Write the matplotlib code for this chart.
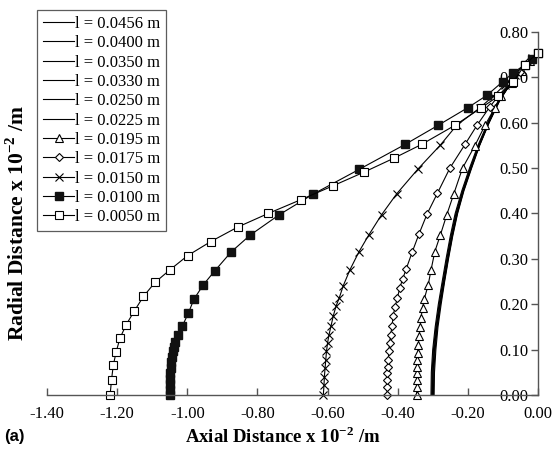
import matplotlib.pyplot as plt
from matplotlib.ticker import MultipleLocator, FormatStrFormatter

plt.rcParams['font.family'] = ['Liberation Serif', 'DejaVu Serif']
plt.rcParams['mathtext.fontset'] = 'custom'
plt.rcParams['mathtext.rm'] = 'Liberation Serif'
plt.rcParams['mathtext.bf'] = 'Liberation Serif:bold'

# plain curves (no markers) share the same radial positions
r_plain = [0.0, 0.05, 0.10, 0.15, 0.20, 0.25, 0.30, 0.35, 0.40, 0.45, 0.50, 0.55, 0.60, 0.65, 0.70, 0.755]
x_0456 = [-0.296, -0.295, -0.291, -0.285, -0.276, -0.266, -0.255, -0.243, -0.229, -0.211, -0.189, -0.166, -0.139, -0.108, -0.066, 0.0]
x_0400 = [-0.298, -0.297, -0.293, -0.287, -0.278, -0.267, -0.256, -0.244, -0.230, -0.212, -0.190, -0.167, -0.140, -0.109, -0.066, 0.0]
x_0350 = [-0.300, -0.299, -0.295, -0.288, -0.279, -0.268, -0.257, -0.245, -0.231, -0.213, -0.191, -0.167, -0.140, -0.109, -0.067, 0.0]
x_0330 = [-0.301, -0.300, -0.296, -0.289, -0.280, -0.269, -0.258, -0.246, -0.232, -0.213, -0.191, -0.168, -0.141, -0.110, -0.067, 0.0]
x_0250 = [-0.303, -0.302, -0.298, -0.291, -0.282, -0.271, -0.260, -0.248, -0.234, -0.215, -0.193, -0.169, -0.142, -0.111, -0.068, 0.0]
x_0225 = [-0.305, -0.304, -0.300, -0.293, -0.284, -0.273, -0.262, -0.250, -0.236, -0.217, -0.195, -0.171, -0.143, -0.112, -0.069, 0.0]

# l = 0.0195 m (triangles)
x_0195 = [-0.346, -0.346, -0.346, -0.345, -0.345, -0.344, -0.343, -0.341, -0.339, -0.336, -0.334, -0.329, -0.324,
          -0.313, -0.305, -0.294, -0.278, -0.260, -0.240, -0.215, -0.180, -0.151, -0.123, -0.104, -0.074, -0.046, -0.023, 0.0]
r_0195 = [0.0, 0.018, 0.033, 0.048, 0.062, 0.077, 0.093, 0.110, 0.129, 0.149, 0.169, 0.191, 0.212,
          0.242, 0.275, 0.316, 0.353, 0.397, 0.443, 0.500, 0.549, 0.594, 0.633, 0.659, 0.687, 0.713, 0.735, 0.754]

# l = 0.0175 m (diamonds)
x_0175 = [-0.430, -0.430, -0.429, -0.429, -0.428, -0.427, -0.425, -0.423, -0.420, -0.416, -0.413, -0.408, -0.401,
          -0.394, -0.386, -0.376, -0.358, -0.339, -0.316, -0.287, -0.251, -0.208, -0.174, -0.138, -0.114, -0.080, -0.051, -0.029, 0.0]
r_0175 = [0.0, 0.018, 0.033, 0.048, 0.062, 0.077, 0.096, 0.114, 0.132, 0.152, 0.173, 0.193, 0.213,
          0.236, 0.255, 0.277, 0.316, 0.355, 0.399, 0.444, 0.500, 0.552, 0.594, 0.634, 0.658, 0.687, 0.711, 0.733, 0.754]

# l = 0.0150 m (crosses)
x_0150 = [-0.612, -0.610, -0.609, -0.607, -0.605, -0.603, -0.600, -0.596, -0.590, -0.584, -0.576, -0.567, -0.555,
          -0.536, -0.510, -0.482, -0.446, -0.403, -0.342, -0.279, -0.232, -0.165, -0.127, -0.094, -0.066, -0.037, -0.017, 0.0]
r_0150 = [0.0, 0.022, 0.040, 0.059, 0.077, 0.096, 0.114, 0.132, 0.152, 0.173, 0.195, 0.213, 0.241,
          0.276, 0.316, 0.353, 0.397, 0.443, 0.498, 0.550, 0.594, 0.633, 0.659, 0.684, 0.706, 0.728, 0.742, 0.754]

# l = 0.0100 m (filled squares)
x_0100 = [-1.050, -1.050, -1.049, -1.049, -1.048, -1.047, -1.046, -1.044, -1.042, -1.039, -1.036, -1.026, -1.014,
          -0.997, -0.981, -0.954, -0.921, -0.875, -0.821, -0.738, -0.640, -0.510, -0.379, -0.285, -0.200, -0.146,
          -0.101, -0.070, -0.037, -0.018, 0.0]
r_0100 = [0.0, 0.012, 0.024, 0.036, 0.048, 0.060, 0.072, 0.084, 0.096, 0.106, 0.116, 0.132, 0.152,
          0.180, 0.211, 0.243, 0.274, 0.315, 0.352, 0.397, 0.443, 0.497, 0.552, 0.594, 0.633, 0.660,
          0.690, 0.710, 0.728, 0.740, 0.754]

# l = 0.0050 m (open squares)
x_0050 = [-1.220, -1.216, -1.211, -1.203, -1.192, -1.174, -1.151, -1.125, -1.092, -1.049, -0.999, -0.933, -0.856,
          -0.769, -0.677, -0.584, -0.496, -0.410, -0.332, -0.237, -0.161, -0.114, -0.071, -0.037, 0.0]
r_0050 = [0.0, 0.033, 0.065, 0.094, 0.125, 0.155, 0.185, 0.217, 0.248, 0.276, 0.307, 0.338, 0.370,
          0.400, 0.430, 0.461, 0.491, 0.522, 0.552, 0.594, 0.633, 0.658, 0.689, 0.728, 0.754]

fig = plt.figure(figsize=(5.56, 4.55), dpi=100)
ax = fig.add_axes([0.0845, 0.1319, 0.883, 0.798])

plain = [(x_0456, 'l = 0.0456 m'), (x_0400, 'l = 0.0400 m'), (x_0350, 'l = 0.0350 m'),
         (x_0330, 'l = 0.0330 m'), (x_0250, 'l = 0.0250 m'), (x_0225, 'l = 0.0225 m')]
for xs, lab in plain:
    ax.plot(xs, r_plain, color='black', lw=0.8, label=lab)

ax.plot(x_0195, r_0195, color='black', lw=0.8, marker='^', ms=5.5, mfc='white', mec='black', mew=0.8, label='l = 0.0195 m')
ax.plot(x_0175, r_0175, color='black', lw=0.8, marker='D', ms=4.2, mfc='white', mec='black', mew=0.8, label='l = 0.0175 m')
ax.plot(x_0150, r_0150, color='black', lw=0.8, marker='x', ms=6, mec='black', mew=0.8, label='l = 0.0150 m')
ax.plot(x_0100, r_0100, color='black', lw=0.8, marker='s', ms=5.5, mfc='#111111', mec='#111111', label='l = 0.0100 m')
ax.plot(x_0050, r_0050, color='black', lw=0.8, marker='s', ms=5.3, mfc='white', mec='black', mew=0.8, label='l = 0.0050 m')

ax.set_xlim(-1.4, 0.0)
ax.set_ylim(0.0, 0.8)
ax.xaxis.set_major_locator(MultipleLocator(0.2))
ax.yaxis.set_major_locator(MultipleLocator(0.1))
ax.xaxis.set_major_formatter(FormatStrFormatter('%.2f'))
ax.yaxis.set_major_formatter(FormatStrFormatter('%.2f'))

ax.spines['left'].set_position(('data', 0))
ax.spines['right'].set_visible(False)
ax.spines['top'].set_visible(False)
for s in ('left', 'bottom'):
    ax.spines[s].set_color('#555555')
    ax.spines[s].set_linewidth(1.0)
ax.tick_params(axis='x', direction='in', length=5, width=1, color='#555555', pad=8, labelsize=12)
ax.tick_params(axis='y', direction='out', length=5, width=1, color='#555555', pad=2, labelsize=12)
for ln in ax.lines:
    ln.set_clip_on(False)

fig.text(0.509, 0.04, 'Axial Distance x 10$^{\\mathbf{-2}}$ /m', ha='center', va='center',
         fontsize=13.5, fontweight='bold')
fig.text(0.032, 0.51, 'Radial Distance x 10$^{\\mathbf{-2}}$ /m', ha='center', va='center',
         rotation=90, fontsize=15.5, fontweight='bold')
fig.text(0.008, 0.04, '(a)', ha='left', va='center', fontsize=12, fontweight='bold',
         family=['Liberation Sans', 'DejaVu Sans'])

leg = ax.legend(loc='upper left', bbox_to_anchor=(0.0665, 0.978), bbox_transform=fig.transFigure,
                borderaxespad=0, fontsize=12, frameon=True, fancybox=False, edgecolor='#333333',
                handlelength=1.9, handletextpad=0.05, labelspacing=0.2, borderpad=0.35)
leg.get_frame().set_linewidth(0.9)

fig.savefig('out.png', dpi=100)
